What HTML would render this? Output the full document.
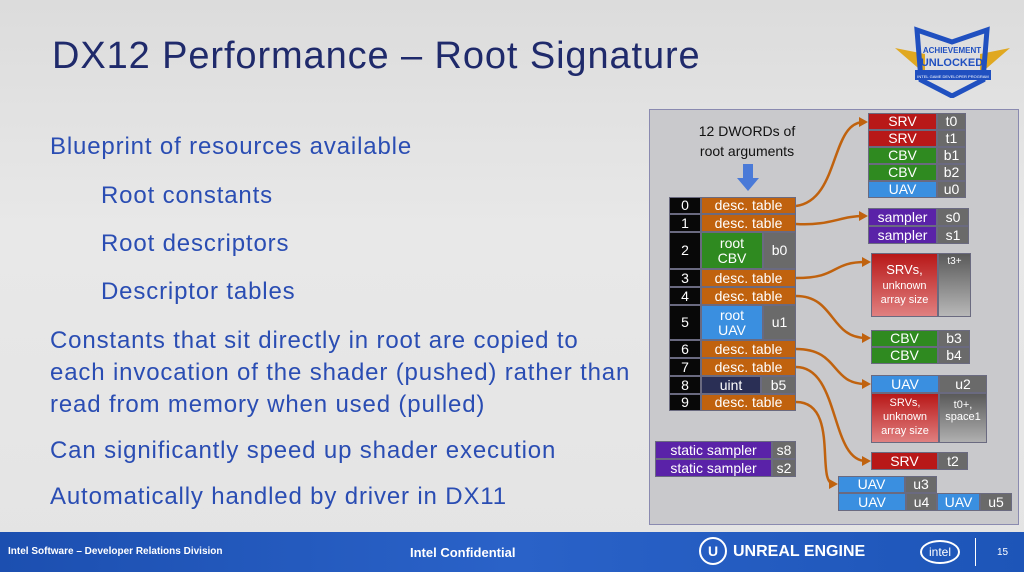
<!DOCTYPE html>
<html><head><meta charset="utf-8"><style>
*{margin:0;padding:0;box-sizing:border-box}
body{width:1024px;height:572px;overflow:hidden;position:relative;background:linear-gradient(180deg,#dcdcdc 0%,#e8e8e8 40%,#e4e4e4 100%);font-family:"Liberation Sans",sans-serif}
.a{position:absolute}
.t{position:absolute;color:#2a4db3;font-size:24px;letter-spacing:0.85px;white-space:nowrap}
.c{position:absolute;color:#fff;font-size:14px;display:flex;align-items:center;justify-content:center;text-align:center;line-height:1.05;border:1px solid #6a6a80}
.o{background:#c0620e}.k{background:#080808}.g{background:#2f8a20}.b{background:#3a8fe0}.r{background:#b81818}.gy{background:#6a6a6a}.p{background:#5a22a8}.n{background:#2a2f55}
</style></head><body>
<div class="a" style="left:52px;top:35px;font-size:38px;letter-spacing:0.9px;color:#1f2a6b">DX12 Performance – Root Signature</div>
<div class="t" style="left:50px;top:133px">Blueprint of resources available</div>
<div class="t" style="left:101px;top:182px">Root constants</div>
<div class="t" style="left:101px;top:230px">Root descriptors</div>
<div class="t" style="left:101px;top:278px">Descriptor tables</div>
<div class="t" style="left:50px;top:325px;line-height:32px">Constants that sit directly in root are copied to<br>each invocation of the shader (pushed) rather than<br>read from memory when used (pulled)</div>
<div class="t" style="left:50px;top:437px">Can significantly speed up shader execution</div>
<div class="t" style="left:50px;top:483px">Automatically handled by driver in DX11</div>

<svg class="a" style="left:895px;top:18px" width="115" height="80" viewBox="0 0 115 80">
<polygon points="0,30 30,36 30,56 0,30" fill="#e0a820"/><polygon points="115,30 85,36 85,56" fill="#e0a820"/>
<polygon points="22,12 57,24 92,12 88,62 57,78 26,62" fill="none" stroke="#2050c0" stroke-width="5"/>
<rect x="20" y="52" width="76" height="10" fill="#2050c0"/>
<text x="57" y="35" font-size="8" font-weight="bold" fill="#2050c0" text-anchor="middle" font-family="Liberation Sans">ACHIEVEMENT</text>
<text x="57" y="48" font-size="11" font-weight="bold" fill="#2050c0" text-anchor="middle" font-family="Liberation Sans">UNLOCKED</text>
<text x="58" y="60" font-size="4" fill="#fff" text-anchor="middle" font-family="Liberation Sans">INTEL GAME DEVELOPER PROGRAM</text>
</svg>

<div class="a" style="left:649px;top:109px;width:370px;height:416px;background:#c9c9cc;border:1px solid #8a8ab0"></div>
<div class="a" style="left:680px;top:121px;width:134px;text-align:center;font-size:14px;line-height:20px;color:#111">12 DWORDs of<br>root arguments</div>
<svg class="a" style="left:736px;top:164px" width="24" height="28"><polygon points="7,0 17,0 17,14 23,14 12,27 1,14 7,14" fill="#4a7ad8"/></svg>

<svg class="a" style="left:0;top:0" width="1024" height="572" fill="none" stroke="#c0620e" stroke-width="2.5">
<path d="M796,206 C840,200 830,122 864,122"/>
<path d="M796,224 C830,226 840,216 864,216"/>
<path d="M796,278 C840,278 830,262 866,262"/>
<path d="M796,296 C835,296 830,338 866,338"/>
<path d="M796,349 C840,349 830,384 866,384"/>
<path d="M796,367 C840,367 830,461 866,461"/>
<path d="M796,402 C840,402 815,484 834,484"/>
<g fill="#c0620e" stroke="none">
<polygon points="868,122 859,117 859,127"/><polygon points="868,216 859,211 859,221"/><polygon points="871,262 862,257 862,267"/><polygon points="871,338 862,333 862,343"/><polygon points="871,384 862,379 862,389"/><polygon points="871,461 862,456 862,466"/><polygon points="838,484 829,479 829,489"/>
</g></svg>

<div class="c k" style="left:669px;top:197px;width:32px;height:17px">0</div><div class="c o" style="left:701px;top:197px;width:95px;height:17px">desc. table</div>
<div class="c k" style="left:669px;top:214px;width:32px;height:18px">1</div><div class="c o" style="left:701px;top:214px;width:95px;height:18px">desc. table</div>
<div class="c k" style="left:669px;top:232px;width:32px;height:37px">2</div><div class="c g" style="left:701px;top:232px;width:62px;height:37px">root<br>CBV</div><div class="c gy" style="left:763px;top:232px;width:33px;height:37px">b0</div>
<div class="c k" style="left:669px;top:269px;width:32px;height:18px">3</div><div class="c o" style="left:701px;top:269px;width:95px;height:18px">desc. table</div>
<div class="c k" style="left:669px;top:287px;width:32px;height:18px">4</div><div class="c o" style="left:701px;top:287px;width:95px;height:18px">desc. table</div>
<div class="c k" style="left:669px;top:305px;width:32px;height:35px">5</div><div class="c b" style="left:701px;top:305px;width:62px;height:35px">root<br>UAV</div><div class="c gy" style="left:763px;top:305px;width:33px;height:35px">u1</div>
<div class="c k" style="left:669px;top:340px;width:32px;height:18px">6</div><div class="c o" style="left:701px;top:340px;width:95px;height:18px">desc. table</div>
<div class="c k" style="left:669px;top:358px;width:32px;height:18px">7</div><div class="c o" style="left:701px;top:358px;width:95px;height:18px">desc. table</div>
<div class="c k" style="left:669px;top:376px;width:32px;height:18px">8</div><div class="c n" style="left:701px;top:376px;width:60px;height:18px">uint</div><div class="c gy" style="left:761px;top:376px;width:35px;height:18px">b5</div>
<div class="c k" style="left:669px;top:394px;width:32px;height:17px">9</div><div class="c o" style="left:701px;top:394px;width:95px;height:17px">desc. table</div>

<div class="c p" style="left:655px;top:441px;width:117px;height:18px">static sampler</div><div class="c gy" style="left:772px;top:441px;width:24px;height:18px">s8</div>
<div class="c p" style="left:655px;top:459px;width:117px;height:18px">static sampler</div><div class="c gy" style="left:772px;top:459px;width:24px;height:18px">s2</div>

<div class="c r" style="left:868px;top:113px;width:69px;height:17px">SRV</div><div class="c gy" style="left:937px;top:113px;width:29px;height:17px">t0</div>
<div class="c r" style="left:868px;top:130px;width:69px;height:17px">SRV</div><div class="c gy" style="left:937px;top:130px;width:29px;height:17px">t1</div>
<div class="c g" style="left:868px;top:147px;width:69px;height:17px">CBV</div><div class="c gy" style="left:937px;top:147px;width:29px;height:17px">b1</div>
<div class="c g" style="left:868px;top:164px;width:69px;height:17px">CBV</div><div class="c gy" style="left:937px;top:164px;width:29px;height:17px">b2</div>
<div class="c b" style="left:868px;top:181px;width:69px;height:17px">UAV</div><div class="c gy" style="left:937px;top:181px;width:29px;height:17px">u0</div>

<div class="c p" style="left:868px;top:208px;width:69px;height:18px">sampler</div><div class="c gy" style="left:937px;top:208px;width:32px;height:18px">s0</div>
<div class="c p" style="left:868px;top:226px;width:69px;height:18px">sampler</div><div class="c gy" style="left:937px;top:226px;width:32px;height:18px">s1</div>

<div class="c" style="left:871px;top:253px;width:67px;height:64px;background:linear-gradient(#b81818,#e08080);font-size:11px;line-height:1.3"><span><span style="font-size:13px">SRVs,</span><br>unknown<br>array size</span></div>
<div class="c" style="left:938px;top:253px;width:33px;height:64px;background:linear-gradient(#5a5a5a,#b8b8b8);align-items:flex-start;font-size:10px;padding-top:3px">t3+</div>

<div class="c g" style="left:871px;top:330px;width:67px;height:17px">CBV</div><div class="c gy" style="left:938px;top:330px;width:32px;height:17px">b3</div>
<div class="c g" style="left:871px;top:347px;width:67px;height:17px">CBV</div><div class="c gy" style="left:938px;top:347px;width:32px;height:17px">b4</div>

<div class="c b" style="left:871px;top:375px;width:68px;height:18px">UAV</div><div class="c gy" style="left:939px;top:375px;width:48px;height:18px">u2</div>
<div class="c" style="left:871px;top:393px;width:68px;height:50px;background:linear-gradient(#b81818,#e08080);font-size:11px;line-height:1.25">SRVs,<br>unknown<br>array size</div>
<div class="c" style="left:939px;top:393px;width:48px;height:50px;background:linear-gradient(#5a5a5a,#b0b0b0);font-size:11px;align-items:flex-start;padding-top:6px">t0+,<br>space1</div>

<div class="c r" style="left:871px;top:452px;width:67px;height:18px">SRV</div><div class="c gy" style="left:938px;top:452px;width:30px;height:18px">t2</div>

<div class="c b" style="left:838px;top:476px;width:67px;height:17px">UAV</div><div class="c gy" style="left:905px;top:476px;width:32px;height:17px">u3</div>
<div class="c b" style="left:838px;top:493px;width:68px;height:18px">UAV</div><div class="c gy" style="left:906px;top:493px;width:31px;height:18px">u4</div>
<div class="c b" style="left:937px;top:493px;width:43px;height:18px">UAV</div><div class="c gy" style="left:980px;top:493px;width:32px;height:18px">u5</div>

<div class="a" style="left:0;top:532px;width:1024px;height:40px;background:linear-gradient(90deg,#1c4fb0,#2a62c8 50%,#1d55b8)"></div>
<div class="a" style="left:8px;top:546px;font-size:10px;color:#fff;font-weight:bold">Intel Software – Developer Relations Division</div>
<div class="a" style="left:410px;top:545px;font-size:13px;color:#fff;font-weight:bold">Intel Confidential</div>
<div class="a" style="left:699px;top:537px;width:28px;height:28px;border:2px solid #fff;border-radius:50%;color:#fff;font-size:14px;font-weight:bold;text-align:center;line-height:24px">U</div>
<div class="a" style="left:733px;top:543px;font-size:16px;color:#fff;font-weight:bold">UNREAL ENGINE</div>
<div class="a" style="left:920px;top:540px;width:40px;height:24px;border:2px solid #fff;border-radius:50%;color:#fff;font-size:12px;text-align:center;line-height:20px">intel</div>
<div class="a" style="left:975px;top:538px;width:1px;height:28px;background:#fff"></div>
<div class="a" style="left:997px;top:547px;font-size:10px;color:#fff">15</div>
</body></html>
